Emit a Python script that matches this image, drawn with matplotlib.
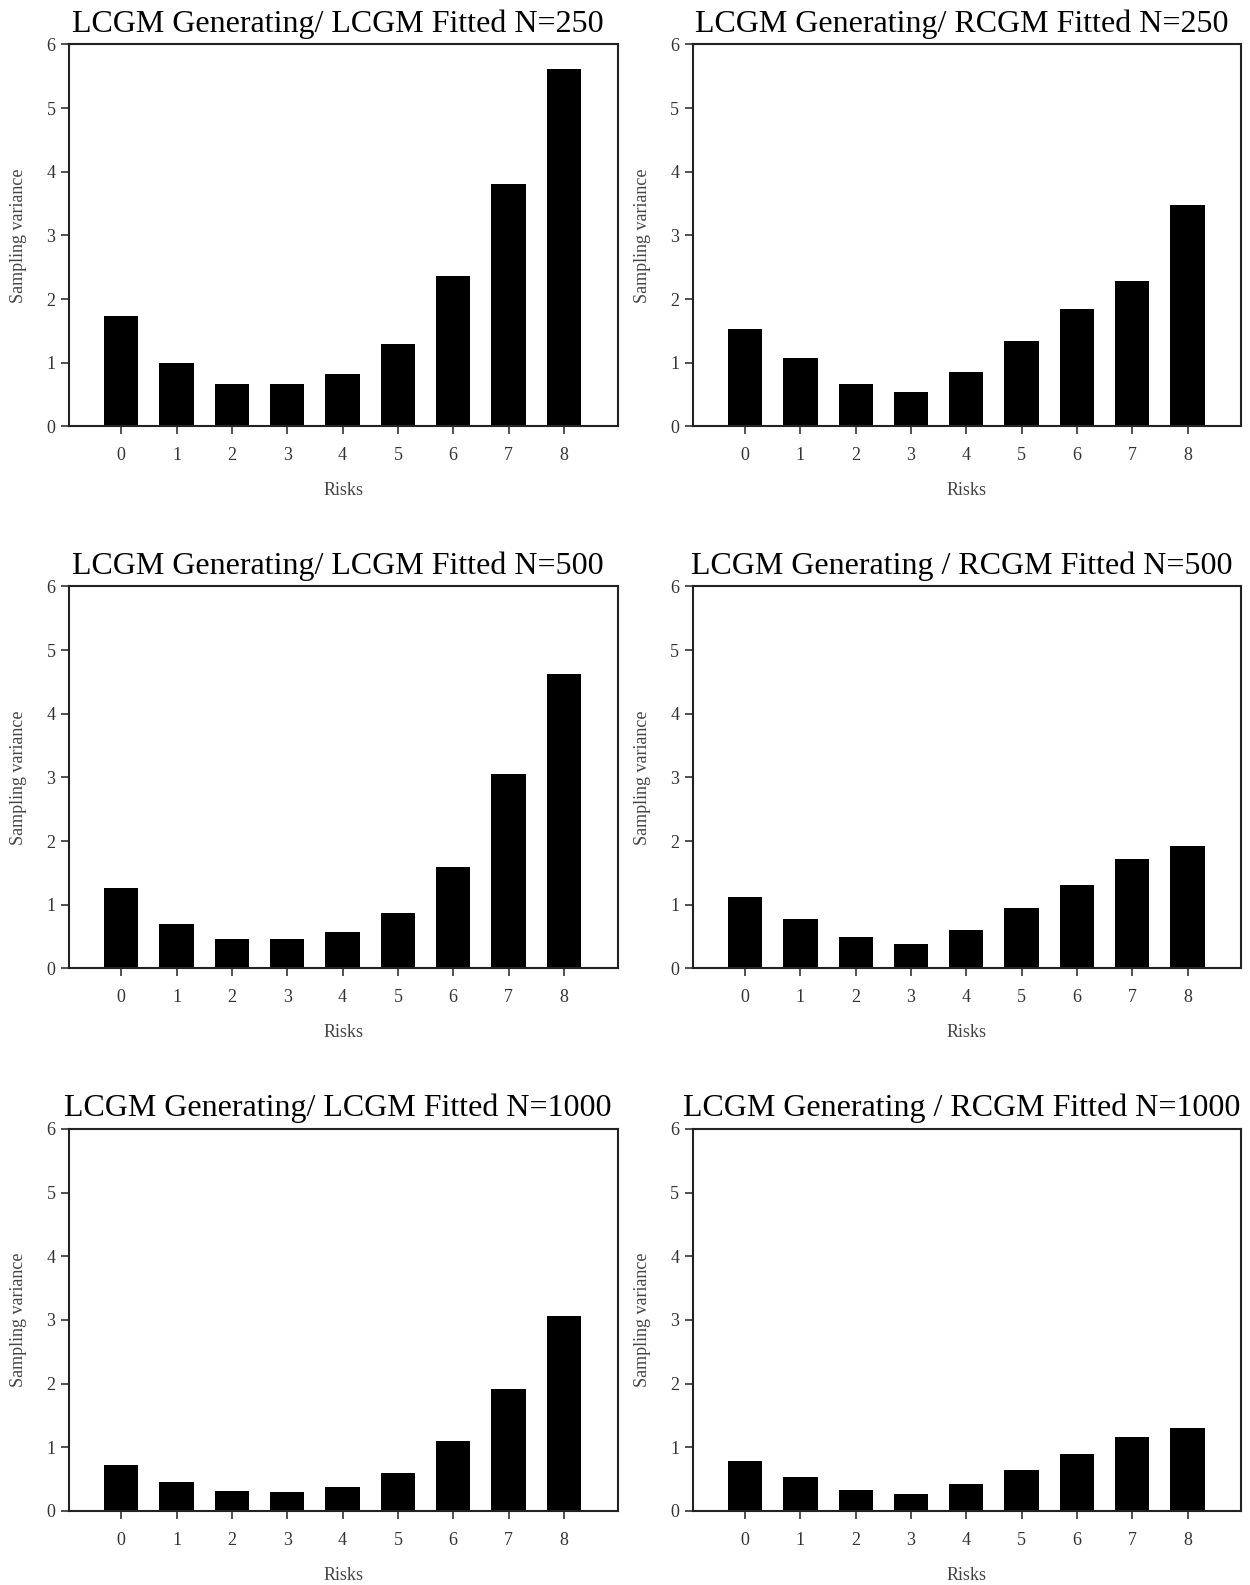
import matplotlib
matplotlib.use("Agg")
import matplotlib.pyplot as plt
import numpy as np

plt.rcParams['font.family'] = ['Liberation Serif', 'DejaVu Serif']

risks = [0, 1, 2, 3, 4, 5, 6, 7, 8]

lcgm_250 = [1.73, 0.99, 0.67, 0.67, 0.83, 1.29, 2.36, 3.81, 5.62]
rcgm_250 = [1.53, 1.08, 0.67, 0.54, 0.86, 1.34, 1.85, 2.29, 3.48]
lcgm_500 = [1.27, 0.70, 0.47, 0.46, 0.57, 0.87, 1.60, 3.05, 4.62]
rcgm_500 = [1.12, 0.78, 0.49, 0.38, 0.61, 0.95, 1.31, 1.72, 1.92]
lcgm_1000 = [0.72, 0.46, 0.31, 0.30, 0.38, 0.60, 1.10, 1.91, 3.06]
rcgm_1000 = [0.79, 0.54, 0.33, 0.27, 0.43, 0.65, 0.89, 1.16, 1.30]

titles = [
    "LCGM Generating/ LCGM Fitted N=250",
    "LCGM Generating/ RCGM Fitted N=250",
    "LCGM Generating/ LCGM Fitted N=500",
    "LCGM Generating / RCGM Fitted N=500",
    "LCGM Generating/ LCGM Fitted N=1000",
    "LCGM Generating / RCGM Fitted N=1000",
]
series = [lcgm_250, rcgm_250, lcgm_500, rcgm_500, lcgm_1000, rcgm_1000]

fig = plt.figure(figsize=(12.5, 15.85), dpi=100)

lefts = [0.055, 0.554]
bottoms = [0.731, 0.389, 0.0467]
w, h = 0.439, 0.241

for i, (vals, title) in enumerate(zip(series, titles)):
    row, col = divmod(i, 2)
    ax = fig.add_axes([lefts[col], bottoms[row], w, h])
    ax.bar(risks, vals, width=0.62, color='black')
    ax.set_xlim(-0.95, 8.97)
    ax.set_ylim(0, 6)
    ax.set_xticks(risks)
    ax.set_yticks(range(7))
    ax.tick_params(direction='out', length=6, width=1.2, labelsize=13,
                   labelcolor='#333333', color='#333333')
    ax.tick_params(axis='x', pad=9)
    for s in ax.spines.values():
        s.set_linewidth(1.5)
        s.set_color('#222222')
    ax.set_xlabel("Risks", fontsize=13, color='#444444', labelpad=13)
    ax.set_ylabel("Sampling variance", fontsize=13, color='#444444', labelpad=14)
    ax.set_title(title, fontsize=23, pad=9, x=0.49)

fig.savefig("out.png", dpi=100)
